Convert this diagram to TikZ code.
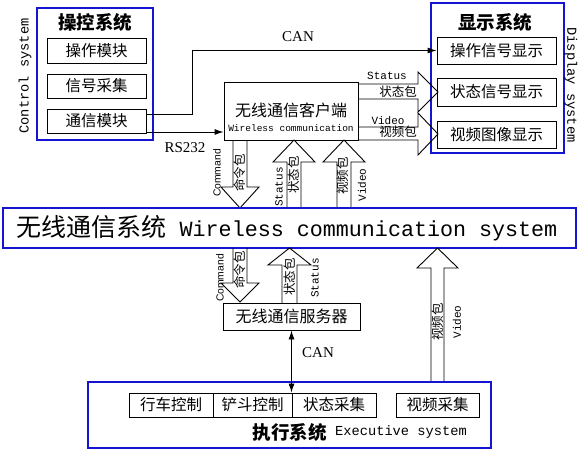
\documentclass[tikz,border=0pt]{standalone}
\usepackage{fontspec}
\usetikzlibrary{arrows.meta}
\setmainfont{Liberation Serif}
\setsansfont{Liberation Sans}
\setmonofont{Liberation Mono}
\newfontfamily\cjk{Noto Sans CJK SC}
\definecolor{sysblue}{RGB}{20,20,210}
\tikzset{
    sysbox/.style={draw=sysblue, line width=2pt, inner sep=0pt},
    subbox/.style={draw, line width=0.9pt, inner sep=0pt, font=\cjk\fontsize{15.5}{15.5}\selectfont},
    title/.style={font=\cjk\bfseries\fontsize{18.5}{18.5}\selectfont, inner sep=0pt},
    fat/.style={draw, line width=0.9pt},
    tag/.style={font=\ttfamily\fontsize{11}{11}\selectfont, inner sep=0pt},
    cntag/.style={font=\cjk\fontsize{12.5}{12.5}\selectfont, inner sep=0pt},
    cmdtag/.style={font=\sffamily\fontsize{10.3}{10.3}\selectfont, inner sep=0pt},
    bus/.style={font=\rmfamily\fontsize{15}{15}\selectfont, inner sep=0pt},
    link/.style={line width=0.9pt, -{Latex[length=9pt,width=6pt]}},
}

\begin{document}
\begin{tikzpicture}[x=1pt,y=-1pt]
\useasboundingbox (0,0) rectangle (580,453);
% control system
\node[sysbox, minimum width=116pt, minimum height=132pt] (ctrl) at (95,74) {};
\node[title] (ctrltitle) at (95,22) {操控系统};
\node[subbox, minimum width=99pt, minimum height=25pt] (opmod) at (96.5,50.5) {操作模块};
\node[subbox, minimum width=99pt, minimum height=24pt] (sigmod) at (96.5,86) {信号采集};
\node[subbox, minimum width=99pt, minimum height=24pt] (commod) at (96.5,121) {通信模块};
\node[tag, font=\ttfamily\fontsize{13.7}{13.7}\selectfont, rotate=90] (ctrlname) at (25,76) {Control system};
% display system
\node[sysbox, minimum width=133pt, minimum height=150pt] (disp) at (497.5,78) {};
\node[title] (disptitle) at (495,22) {显示系统};
\node[subbox, minimum width=119pt, minimum height=27pt] (opsig) at (496.5,50.5) {操作信号显示};
\node[subbox, minimum width=119pt, minimum height=28pt] (stsig) at (496.5,92) {状态信号显示};
\node[subbox, minimum width=119pt, minimum height=27pt] (vidsig) at (496.5,134.5) {视频图像显示};
\node[tag, font=\ttfamily\fontsize{13.7}{13.7}\selectfont, rotate=-90] (dispname) at (571,85) {Display system};
% wireless client
\node[draw, line width=0.9pt, minimum width=134pt, minimum height=58pt] (client) at (291,111) {};
\node[cntag, font=\cjk\fontsize{16}{16}\selectfont] (clientcn) at (291,110) {无线通信客户端};
\node[tag, font=\ttfamily\fontsize{9.5}{9.5}\selectfont] (clienten) at (291,128) {Wireless communication};
\draw[link] ([yshift=7pt]commod.east) -- ++(46,0) |- (opsig.west);
\node[bus] (canup) at (298,37) {CAN};
\draw[link] ([yshift=-11pt]commod.east) -- ([yshift=-11pt]commod.east -| client.west);
\node[bus] (rs) at (185,148) {RS232};
% client -> display
\draw[fat] (358,84) -- (418,84) -- (418,72) -- (438,92) -- (418,112) -- (418,99) -- (358,99);
\draw[fat] (358,127) -- (418,127) -- (418,113) -- (438,134) -- (418,155) -- (418,140) -- (358,140);
\node[tag] (stup) at (387,76) {Status};
\node[cntag] (stupcn) at (398,92) {状态包};
\node[tag] (vidup) at (388,121) {Video};
\node[cntag] (vidupcn) at (398,132) {视频包};
% client <-> wireless system
\draw[fat] (233,140) -- (233,187) -- (221,187) -- (240,208) -- (259,187) -- (247,187) -- (247,140);
\draw[fat] (287,208) -- (287,162) -- (273,162) -- (294,140) -- (315,162) -- (301,162) -- (301,208);
\draw[fat] (337,208) -- (337,162) -- (323,162) -- (344,140) -- (365,162) -- (351,162) -- (351,208);
\node[cmdtag, rotate=90] (cmda) at (217,173) {Command};
\node[cntag, rotate=90] (cmdacn) at (240,173) {命令包};
\node[tag, rotate=90] (sta) at (279,187) {Status};
\node[cntag, rotate=90] (stacn) at (294,175) {状态包};
\node[cntag, rotate=90] (vidacn) at (343,176) {视频包};
\node[tag, rotate=90] (vida) at (362,185) {Video};
% wireless system
\node[sysbox, minimum width=573pt, minimum height=40pt] (wsys) at (289.5,228) {};
\node[inner sep=0pt] (wsyslbl) at (287,228) {{\cjk\fontsize{25}{25}\selectfont 无线通信系统}\hspace{13pt}{\ttfamily\fontsize{21.7}{21.7}\selectfont Wireless communication system}};
% wireless system <-> server
\draw[fat] (233,248) -- (233,283) -- (221,283) -- (240,302) -- (259,283) -- (247,283) -- (247,248);
\draw[fat] (282,303) -- (282,265) -- (268,265) -- (289.5,248) -- (311,265) -- (297,265) -- (297,303);
\draw[fat] (431,382) -- (431,268) -- (417,268) -- (437.5,248) -- (458,268) -- (444,268) -- (444,382);
\node[cmdtag, rotate=90] (cmdb) at (220,278) {Command};
\node[cntag, rotate=90] (cmdbcn) at (240,270) {命令包};
\node[cntag, rotate=90] (stbcn) at (289.5,277) {状态包};
\node[tag, rotate=90] (stb) at (315,278) {Status};
\node[cntag, rotate=90] (vidbcn) at (437.5,322) {视频包};
\node[tag, rotate=90] (vidb) at (457,322) {Video};
% server
\node[subbox, minimum width=137pt, minimum height=27pt, font=\cjk\fontsize{16}{16}\selectfont] (server) at (291.5,316.5) {无线通信服务器};
% executive system
\node[sysbox, minimum width=403pt, minimum height=66pt] (exec) at (289.5,415) {};
\node[subbox, minimum width=84pt, minimum height=24pt] (drive) at (171,405) {行车控制};
\node[subbox, minimum width=79pt, minimum height=24pt] (shovel) at (252.5,405) {铲斗控制};
\node[subbox, minimum width=84pt, minimum height=24pt] (stcol) at (334,405) {状态采集};
\node[subbox, minimum width=83pt, minimum height=24pt] (vidcol) at (437.5,405) {视频采集};
\node[title, anchor=east] (exectitle) at (327,432) {执行系统};
\node[tag, font=\ttfamily\fontsize{13.7}{13.7}\selectfont, anchor=west] (execname) at (335,432) {Executive system};
\draw[link, {Latex[length=9pt,width=6pt]}-{Latex[length=9pt,width=6pt]}] (server.south) -- (server.south |- shovel.north);
\node[bus] (candown) at (318,353) {CAN};
\end{tikzpicture}
\end{document}
